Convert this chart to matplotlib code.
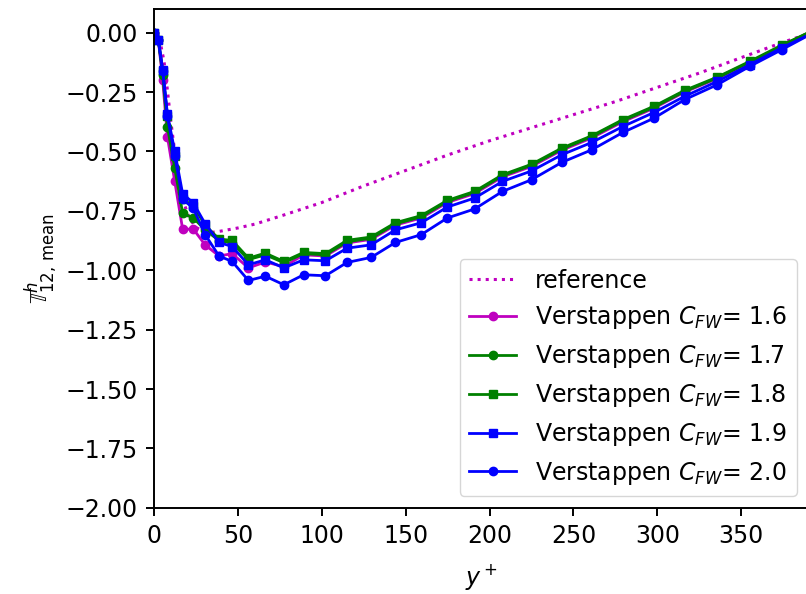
import numpy as np
import matplotlib
matplotlib.use('Agg')
from matplotlib import pyplot as plt

# DNS reference profile
ref_yplus = [0, 2, 4, 6, 8, 10, 12, 15, 18, 21, 25, 30, 35, 40, 50, 60, 75,
             100, 125, 150, 175, 200, 225, 250, 275, 300, 325, 350, 375, 392]
ref_vals = [0.0, -0.01, -0.05, -0.12, -0.24, -0.37, -0.48, -0.62, -0.72, -0.78,
            -0.82, -0.836, -0.84, -0.835, -0.822, -0.806, -0.773, -0.715, -0.645,
            -0.58, -0.515, -0.455, -0.40, -0.345, -0.29, -0.23, -0.17, -0.105,
            -0.04, 0.0]

# LES grid (cell positions in wall units)
yplus = [0, 2.6, 5.2, 8.0, 12.4, 17.1, 23.5, 30.5, 38.8, 46.6, 56.3, 66.4, 77.4,
         89.2, 102.2, 115.1, 129.4, 143.9, 159.3, 174.8, 191.1, 207.7, 225.0,
         243.0, 260.9, 279.4, 297.9, 316.2, 335.7, 355.0, 374.0, 393.0]

cfw_16 = [0, -0.03, -0.198, -0.437, -0.626, -0.827, -0.827, -0.893, -0.94, -0.93,
          -0.99, -0.965, -0.985, -0.935, -0.94, -0.885, -0.87, -0.81, -0.78,
          -0.715, -0.677, -0.607, -0.563, -0.495, -0.443, -0.375, -0.318, -0.25,
          -0.193, -0.127, -0.058, 0.005]
cfw_17 = [0, -0.03, -0.177, -0.395, -0.57, -0.76, -0.78, -0.83, -0.875, -0.885,
          -0.955, -0.935, -0.968, -0.93, -0.935, -0.88, -0.865, -0.805, -0.775,
          -0.71, -0.672, -0.602, -0.558, -0.49, -0.438, -0.37, -0.314, -0.247,
          -0.19, -0.124, -0.056, 0.01]
cfw_18 = [0, -0.03, -0.16, -0.35, -0.52, -0.70, -0.73, -0.81, -0.869, -0.874,
          -0.949, -0.928, -0.963, -0.925, -0.93, -0.874, -0.86, -0.80, -0.77,
          -0.706, -0.668, -0.598, -0.554, -0.486, -0.434, -0.366, -0.31, -0.243,
          -0.187, -0.121, -0.053, 0.01]
cfw_19 = [0, -0.03, -0.156, -0.341, -0.50, -0.678, -0.717, -0.804, -0.883, -0.90,
          -0.977, -0.956, -0.99, -0.956, -0.96, -0.907, -0.893, -0.83, -0.80,
          -0.734, -0.696, -0.626, -0.582, -0.514, -0.462, -0.395, -0.336, -0.268,
          -0.205, -0.135, -0.064, 0.0]
cfw_20 = [0, -0.03, -0.16, -0.35, -0.52, -0.70, -0.74, -0.85, -0.94, -0.963,
          -1.043, -1.025, -1.061, -1.019, -1.023, -0.967, -0.946, -0.883, -0.85,
          -0.78, -0.742, -0.668, -0.619, -0.546, -0.493, -0.42, -0.36, -0.282,
          -0.219, -0.142, -0.072, 0.0]

plt.rcParams['font.size'] = 17
plt.rcParams['axes.linewidth'] = 1.4
plt.rcParams['xtick.major.size'] = 6
plt.rcParams['ytick.major.size'] = 6
plt.rcParams['xtick.major.width'] = 1.4
plt.rcParams['ytick.major.width'] = 1.4
plt.rcParams['xtick.major.pad'] = 5.5
plt.rcParams['ytick.major.pad'] = 5.5

fig = plt.figure(figsize=(8.06, 5.94), dpi=100)
ax = fig.add_axes([0.191, 0.145, 0.812, 0.84])

ax.plot(ref_yplus, ref_vals, 'm:', lw=2.2, label='reference')
ax.plot(yplus, cfw_16, 'm-o', lw=2, ms=6, label=r'Verstappen $C_{FW}$= 1.6')
ax.plot(yplus, cfw_17, 'g-o', lw=2, ms=6, label=r'Verstappen $C_{FW}$= 1.7')
ax.plot(yplus, cfw_18, 'g-s', lw=2, ms=6, label=r'Verstappen $C_{FW}$= 1.8')
ax.plot(yplus, cfw_19, 'b-s', lw=2, ms=6, label=r'Verstappen $C_{FW}$= 1.9')
ax.plot(yplus, cfw_20, 'b-o', lw=2, ms=6, label=r'Verstappen $C_{FW}$= 2.0')

ax.set_xlim(0, 390)
ax.set_ylim(-2.0, 0.1)
ax.set_xlabel(r'$y^+$', labelpad=10)
ax.set_ylabel(r'$\mathbb{T}^h_{12,\,\mathrm{mean}}$')
ax.legend(loc='lower right')

fig.savefig('out.png', dpi=100)
